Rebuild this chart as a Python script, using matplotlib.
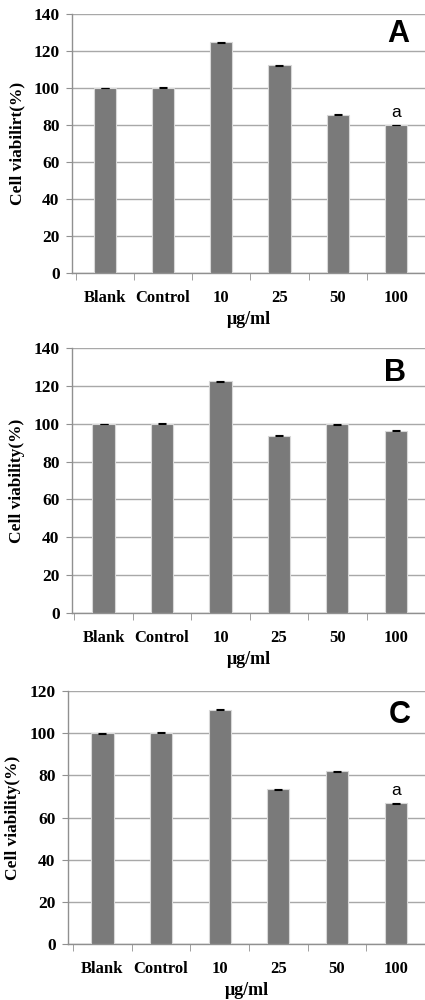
import numpy as np
import matplotlib
matplotlib.use("Agg")
import matplotlib.pyplot as plt

categories = ["Blank", "Control", "10", "25", "50", "100"]

viability_a = [100.0, 100.2, 124.6, 112.2, 85.6, 80.0]
viability_b = [99.8, 100.0, 122.4, 93.7, 99.6, 96.3]
viability_c = [99.9, 100.3, 111.1, 73.4, 81.9, 66.8]
errors_a = [0.2, 0.2, 0.2, 0.2, 0.2, 0.2]
errors_b = [0.2, 0.2, 0.2, 0.2, 0.2, 0.2]
errors_c = [0.2, 0.3, 0.3, 0.3, 0.2, 0.2]

ylabels = ["Cell viabilirt(%)", "Cell viability(%)", "Cell viability(%)"]
panel_letters = ["A", "B", "C"]
ymaxes = [140, 140, 120]
marks = [{5: "a"}, {}, {5: "a"}]

SERIF = "Liberation Serif"
SANS = "Liberation Sans"
BAR_COLOR = "#7a7a7a"
GRID_COLOR = "#a8a8a8"

fig = plt.figure(figsize=(4.25, 10), dpi=100)

# [left, bottom, width, height] in figure fractions, plus x limits
layouts = [
    ([72 / 425, 0.727, 353 / 425, 0.259], (-0.565, 5.48), (34, 398)),
    ([72 / 425, 0.387, 353 / 425, 0.265], (-0.54, 5.49), (373, 395)),
    ([68 / 425, 0.056, 357 / 425, 0.253], (-0.586, 5.44), (715, 400)),
]

data = [(viability_a, errors_a), (viability_b, errors_b), (viability_c, errors_c)]

for i, (vals, errs) in enumerate(data):
    rect, xlim, letter_pos = layouts[i]
    ax = fig.add_axes(rect)
    x = np.arange(len(categories))
    ax.bar(x, vals, width=0.38, color=BAR_COLOR, edgecolor="#d8d8d8",
           linewidth=0.8, zorder=3)
    ax.errorbar(x, vals, yerr=errs, fmt="none", ecolor="black",
                elinewidth=0.6, capsize=3.0, capthick=0.8, zorder=4)

    ax.set_xlim(*xlim)
    ax.set_ylim(0, ymaxes[i])
    ax.set_yticks(np.arange(0, ymaxes[i] + 1, 20))
    ax.yaxis.grid(True, color=GRID_COLOR, linewidth=1.0, zorder=0)
    ax.set_axisbelow(True)

    for side in ["top", "right"]:
        ax.spines[side].set_visible(False)
    for side in ["left", "bottom"]:
        ax.spines[side].set_color("#909090")
        ax.spines[side].set_linewidth(1.0)

    # category labels centered, tick marks on category boundaries
    ax.set_xticks(x)
    ax.set_xticklabels(categories, fontfamily=SERIF, fontweight="bold",
                       fontsize=12)
    ax.tick_params(axis="x", which="major", length=0, pad=12)
    ax.set_xticks(np.arange(-0.5, len(categories), 1.0), minor=True)
    ax.tick_params(axis="x", which="minor", length=5, color="#909090",
                   direction="out")
    ax.tick_params(axis="y", length=4, color="#909090", pad=5)
    for lab in ax.get_yticklabels():
        lab.set_fontfamily(SERIF)
        lab.set_fontweight("bold")
        lab.set_fontsize(12.5)

    ax.set_ylabel(ylabels[i], fontfamily=SERIF, fontweight="bold",
                  fontsize=12.5, labelpad=6)
    ax.set_xlabel("μg/ml", fontfamily=SERIF, fontweight="bold",
                  fontsize=13, labelpad=4)

    for idx, txt in marks[i].items():
        ax.text(idx, vals[idx] + 2.5, txt, ha="center", va="bottom",
                fontfamily=SANS, fontsize=12.5)

    fig.text(letter_pos[1] / 425, 1 - letter_pos[0] / 1000, panel_letters[i],
             ha="center", va="center", fontfamily=SANS, fontweight="bold",
             fontsize=22)

fig.savefig("out.png", dpi=100)
